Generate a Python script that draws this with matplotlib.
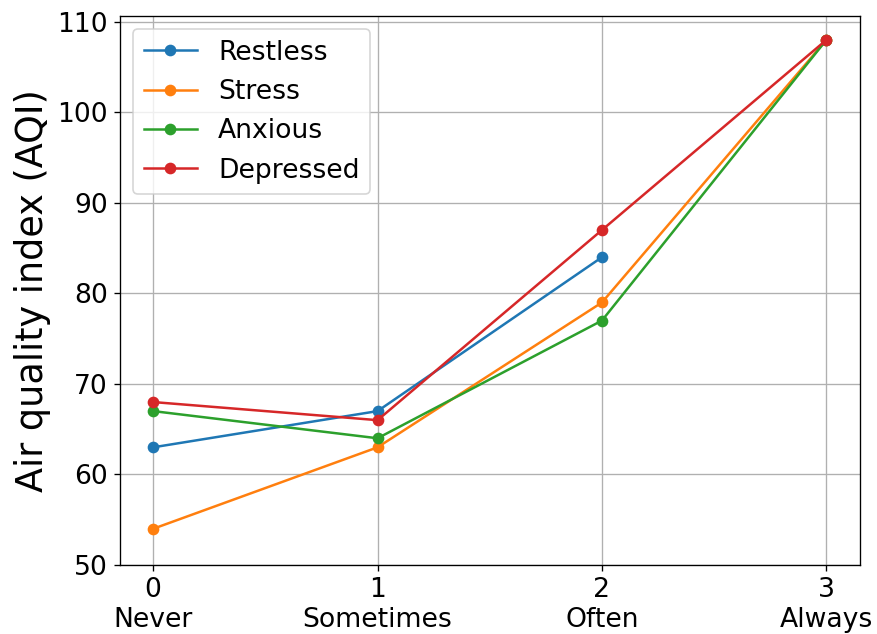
import numpy as np
import matplotlib
matplotlib.use("Agg")
import matplotlib.pyplot as plt

levels = [0, 1, 2, 3]
level_names = ["Never", "Sometimes", "Often", "Always"]
restless = [63, 67, 84, np.nan]
stress = [54, 63, 79, 108]
anxious = [67, 64, 77, 108]
depressed = [68, 66, 87, 108]

DPI = 120
fig = plt.figure(figsize=(877 / DPI, 634 / DPI), dpi=DPI)
ax = fig.add_axes([119.5 / 877, 69 / 634, 740.5 / 877, 549.5 / 634])

for vals, name in [(restless, "Restless"), (stress, "Stress"),
                   (anxious, "Anxious"), (depressed, "Depressed")]:
    ax.plot(levels, vals, marker="o", label=name)

ax.set_xticks(levels)
ax.set_xticklabels([f"{i}\n{n}" for i, n in zip(levels, level_names)], fontsize=16)
ax.set_ylim(bottom=50)
ax.set_yticks(range(50, 111, 10))
ax.tick_params(axis="y", labelsize=16)
ax.set_ylabel("Air quality index (AQI)", fontsize=22)
ax.grid(True)
ax.legend(loc="upper left", fontsize=16)

fig.savefig("out.png", dpi=DPI)
